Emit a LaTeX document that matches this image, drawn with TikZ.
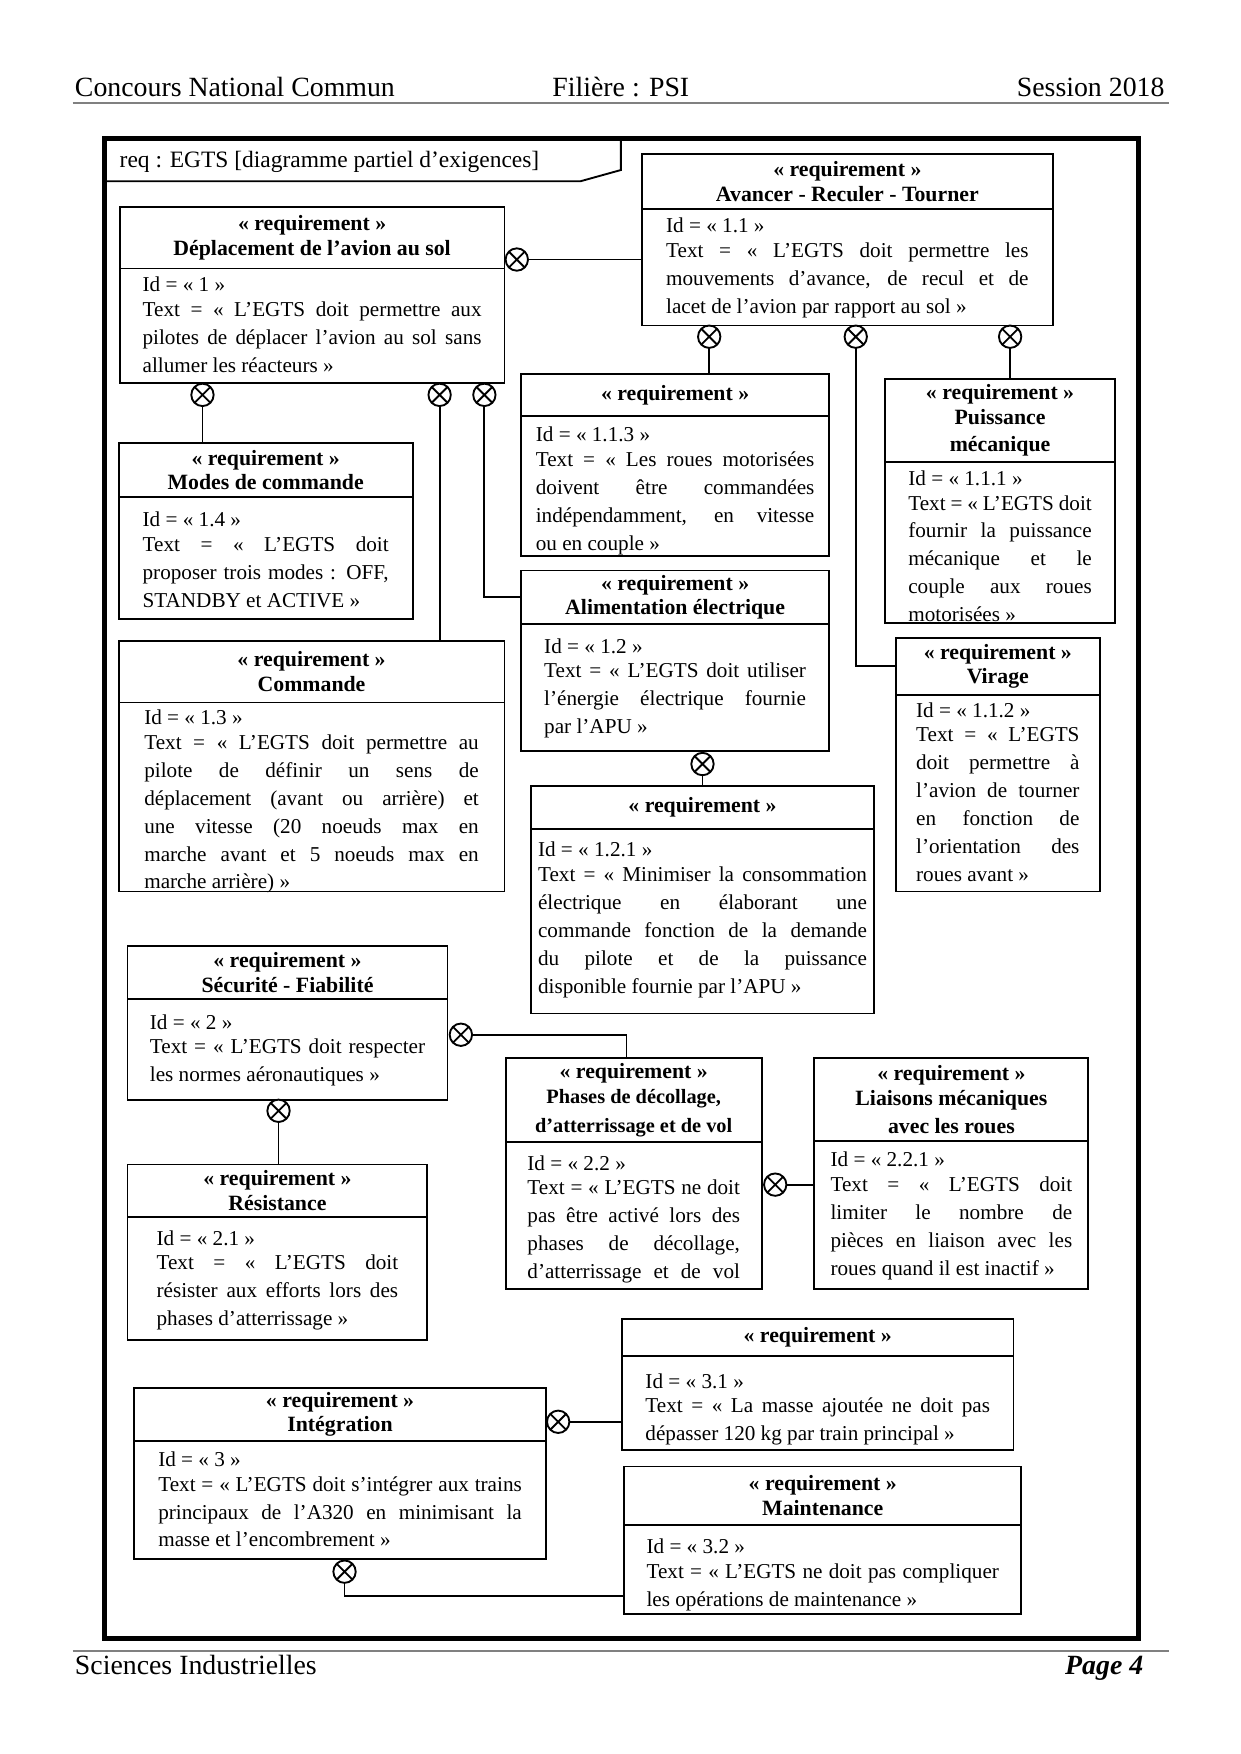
\documentclass[tikz,border=0pt]{standalone}
\usepackage{fontspec}
\setmainfont{Liberation Serif}
\usetikzlibrary{positioning}
\newlength{\px}
\setlength{\px}{0.18936mm}
\tolerance=10000
\hbadness=10000

\begin{document}
\begin{tikzpicture}[
  x=\px, y=-\px,
  line width=0.9pt,
  every node/.style={inner sep=0pt, outer sep=0pt},
  pagetxt/.style={font=\fontsize{13.4}{16}\selectfont},
  reqhead/.style={draw, anchor=north west, align=center, font=\fontsize{10.5}{11.8}\selectfont\bfseries},
  reqbody/.style={draw, align=justify, below=0pt of #1, font=\fontsize{10.2}{13.44}\selectfont},
  contain/.style={draw, circle, fill=white, minimum size=20*\px,
    path picture={\draw (path picture bounding box.north west) -- (path picture bounding box.south east)
      (path picture bounding box.south west) -- (path picture bounding box.north east);}}
]
\useasboundingbox (0,0) rectangle (1109,1568);

% Page header and footer
\node[pagetxt, anchor=base west] (cnc) at (67,86) {Concours National Commun};
\node[pagetxt, anchor=base] (filiere) at (555,86) {Filière : PSI};
\node[pagetxt, anchor=base east] (session) at (1041,86) {Session 2018};
\draw[gray, line width=0.7pt] (65,92) -- (1045,92);
\draw[gray, line width=0.7pt] (65,1476) -- (1045,1476);
\node[pagetxt, anchor=base west] (sciences) at (67,1497) {Sciences Industrielles};
\node[pagetxt, anchor=base east] (page) at (1022,1497) {\textbf{\textit{Page 4}}};

% Diagram frame
\draw[line width=2.4pt] (93,124) rectangle (1018,1465);
\draw (93,162) -- (519,162) -- (555,152) -- (555,124);
\node[anchor=base west, font=\fontsize{11.3}{13}\selectfont] (titre) at (107,150) {req : EGTS [diagramme partiel d’exigences]};

% Requirements 1.x
\node[reqhead, minimum width=344*\px, minimum height=55*\px] (dep) at (107,185) {« requirement »\\Déplacement de l’avion au sol};
\node[reqbody=dep, minimum width=344*\px, text width=303*\px, text height=21*\px, text depth=81*\px] (dep-t)
  {Id = « 1 »\\[-1.6pt]Text = « L’EGTS doit permettre aux\linebreak pilotes de déplacer l’avion au sol sans\linebreak allumer les réacteurs »};

\node[reqhead, minimum width=367*\px, minimum height=49*\px] (av) at (574,138) {« requirement »\\Avancer - Reculer - Tourner};
\node[reqbody=av, minimum width=367*\px, text width=324*\px, text height=21*\px, text depth=83*\px] (av-t)
  {Id = « 1.1 »\\[-1.6pt]Text = « L’EGTS doit permettre les\linebreak mouvements d’avance, de recul et de\linebreak lacet de l’avion par rapport au sol »};

\node[reqhead, minimum width=263*\px, minimum height=48*\px] (mod) at (106,396) {« requirement »\\Modes de commande};
\node[reqbody=mod, minimum width=263*\px, text width=220*\px, text height=27*\px, text depth=82*\px] (mod-t)
  {Id = « 1.4 »\\[-1.6pt]Text = « L’EGTS doit\linebreak proposer trois modes : OFF,\linebreak STANDBY et ACTIVE »};

\node[reqhead, minimum width=345*\px, minimum height=55*\px] (cmd) at (106,573) {« requirement »\\Commande};
\node[reqbody=cmd, minimum width=345*\px, text width=299*\px, text height=20*\px, text depth=149*\px] (cmd-t)
  {Id = « 1.3 »\\[-1.6pt]Text = « L’EGTS doit permettre au\linebreak pilote de définir un sens de\linebreak déplacement (avant ou arrière) et\linebreak une vitesse (20 noeuds max en\linebreak marche avant et 5 noeuds max en\linebreak marche arrière) »};

\node[reqhead, minimum width=275*\px, minimum height=38*\px] (rou) at (466,334) {« requirement »};
\node[reqbody=rou, minimum width=275*\px, text width=249*\px, text height=23*\px, text depth=102*\px] (rou-t)
  {Id = « 1.1.3 »\\[-1.6pt]Text = « Les roues motorisées\linebreak doivent être commandées\linebreak indépendamment, en vitesse\linebreak ou en couple »};

\node[reqhead, minimum width=206*\px, minimum height=74*\px] (pui) at (791,339) {« requirement »\\Puissance\\[1.5pt]mécanique};
\node[reqbody=pui, minimum width=206*\px, text width=164*\px, text height=21*\px, text depth=123*\px] (pui-t)
  {Id = « 1.1.1 »\\[-1.6pt]Text = « L’EGTS doit\linebreak fournir la puissance\linebreak mécanique et le\linebreak couple aux roues\linebreak motorisées »};

\node[reqhead, minimum width=275*\px, minimum height=48*\px] (ali) at (466,510) {« requirement »\\Alimentation électrique};
\node[reqbody=ali, minimum width=275*\px, text width=234*\px, text height=26*\px, text depth=87*\px] (ali-t)
  {Id = « 1.2 »\\[-1.6pt]Text = « L’EGTS doit utiliser\linebreak l’énergie électrique fournie\linebreak par l’APU »};

\node[reqhead, minimum width=182*\px, minimum height=51*\px] (vir) at (801,570) {« requirement »\\Virage};
\node[reqbody=vir, minimum width=182*\px, text width=146*\px, text height=20*\px, text depth=156*\px] (vir-t)
  {Id = « 1.1.2 »\\[-1.6pt]Text = « L’EGTS\linebreak doit permettre à\linebreak l’avion de tourner\linebreak en fonction de\linebreak l’orientation des\linebreak roues avant »};

\node[reqhead, minimum width=306*\px, minimum height=38*\px] (min) at (475,703) {« requirement »};
\node[reqbody=min, minimum width=306*\px, text width=294*\px, text height=25*\px, text depth=140*\px] (min-t)
  {Id = « 1.2.1 »\\[-1.6pt]Text = « Minimiser la consommation\linebreak électrique en élaborant une\linebreak commande fonction de la demande\linebreak du pilote et de la puissance\linebreak disponible fournie par l’APU »};

% Requirements 2.x
\node[reqhead, minimum width=286*\px, minimum height=47*\px] (sec) at (114,846) {« requirement »\\Sécurité - Fiabilité};
\node[reqbody=sec, minimum width=286*\px, text width=246*\px, text height=27*\px, text depth=63*\px] (sec-t)
  {Id = « 2 »\\[-1.6pt]Text = « L’EGTS doit respecter\linebreak les normes aéronautiques »};

\node[reqhead, minimum width=268*\px, minimum height=47*\px] (res) at (114,1041) {« requirement »\\Résistance};
\node[reqbody=res, minimum width=268*\px, text width=216*\px, text height=25*\px, text depth=85*\px] (res-t)
  {Id = « 2.1 »\\[-1.6pt]Text = « L’EGTS doit\linebreak résister aux efforts lors des\linebreak phases d’atterrissage »};

\node[reqhead, minimum width=229*\px, minimum height=75*\px] (pha) at (452,946)
  {« requirement »\\{\fontsize{9.8}{11}\selectfont Phases de décollage,}\\[2pt]{\fontsize{9.8}{11}\selectfont d’atterrissage et de vol}};
\node[reqbody=pha, minimum width=229*\px, text width=190*\px, text height=25*\px, text depth=106*\px] (pha-t)
  {Id = « 2.2 »\\[-1.6pt]Text = « L’EGTS ne doit\linebreak pas être activé lors des\linebreak phases de décollage,\linebreak d’atterrissage et de vol\linebreak};

\node[reqhead, minimum width=245*\px, minimum height=74*\px] (lia) at (728,946) {« requirement »\\Liaisons mécaniques\\[1.5pt]avec les roues};
\node[reqbody=lia, minimum width=245*\px, text width=216*\px, text height=23*\px, text depth=109*\px] (lia-t)
  {Id = « 2.2.1 »\\[-1.6pt]Text = « L’EGTS doit\linebreak limiter le nombre de\linebreak pièces en liaison avec les\linebreak roues quand il est inactif »};

% Requirements 3.x
\node[reqhead, minimum width=350*\px, minimum height=33*\px] (mas) at (556,1179) {« requirement »};
\node[reqbody=mas, minimum width=350*\px, text width=308*\px, text height=29*\px, text depth=55*\px] (mas-t)
  {Id = « 3.1 »\\[-1.6pt]Text = « La masse ajoutée ne doit pas\linebreak dépasser 120 kg par train principal »};

\node[reqhead, minimum width=368*\px, minimum height=47*\px] (int) at (120,1241) {« requirement »\\Intégration};
\node[reqbody=int, minimum width=368*\px, text width=325*\px, text height=23*\px, text depth=83*\px] (int-t)
  {Id = « 3 »\\[-1.6pt]Text = « L’EGTS doit s’intégrer aux trains\linebreak principaux de l’A320 en minimisant la\linebreak masse et l’encombrement »};

\node[reqhead, minimum width=355*\px, minimum height=52*\px] (mai) at (558,1311) {« requirement »\\Maintenance};
\node[reqbody=mai, minimum width=355*\px, text width=315*\px, text height=26*\px, text depth=54*\px] (mai-t)
  {Id = « 3.2 »\\[-1.6pt]Text = « L’EGTS ne doit pas compliquer\linebreak les opérations de maintenance »};

% Containment links
\node[contain] (c-dep-av) at (462,232) {};
\node[contain] (c-dep-mod) at (181,353) {};
\node[contain] (c-dep-cmd) at (393,353) {};
\node[contain] (c-dep-ali) at (433,353) {};
\node[contain] (c-av-rou) at (634,301) {};
\node[contain] (c-av-vir) at (765,301) {};
\node[contain] (c-av-pui) at (903,301) {};
\node[contain] (c-ali-min) at (628,683) {};
\node[contain] (c-sec-pha) at (412,925) {};
\node[contain] (c-sec-res) at (249,993) {};
\node[contain] (c-pha-lia) at (693,1059) {};
\node[contain] (c-int-mas) at (499,1271) {};
\node[contain] (c-int-mai) at (308,1405) {};

\draw (c-dep-av) -- (c-dep-av -| av-t.west);
\draw (c-dep-mod) -- (c-dep-mod |- mod.north);
\draw (c-dep-cmd) -- (c-dep-cmd |- cmd.north);
\draw (c-dep-ali) |- (ali.west);
\draw (c-av-rou) -- (c-av-rou |- rou.north);
\draw (c-av-vir) |- (vir.west);
\draw (c-av-pui) -- (c-av-pui |- pui.north);
\draw (c-ali-min) -- (c-ali-min |- min.north);
\draw (c-sec-pha) -| ([xshift=-6.5*\px]pha.north);
\draw (c-sec-res) -- (c-sec-res |- res.north);
\draw (c-pha-lia) -- (c-pha-lia -| lia-t.west);
\draw (c-int-mas) -- (c-int-mas -| mas-t.west);
\draw (c-int-mai) |- ([yshift=-24*\px]mai-t.west);

\end{tikzpicture}
\end{document}
